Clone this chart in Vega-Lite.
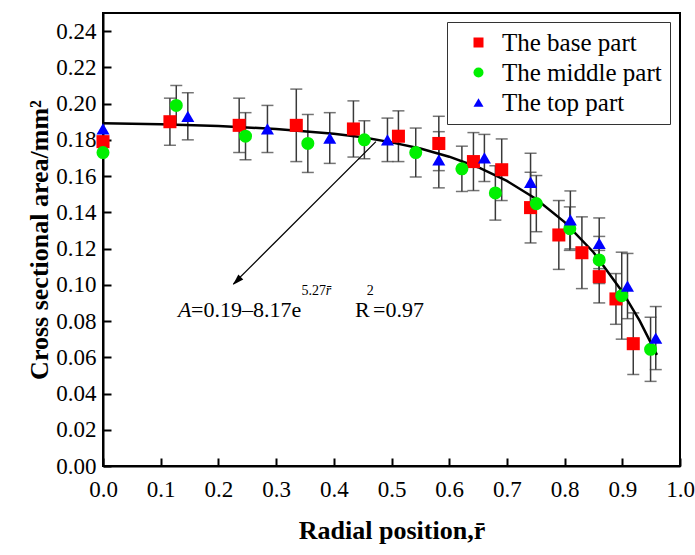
{
  "$schema": "https://vega.github.io/schema/vega-lite/v6.json",
  "width": 577,
  "height": 453,
  "autosize": "none",
  "padding": {"left": 103, "top": 13, "right": 15, "bottom": 89},
  "background": "white",
  "config": {
    "view": {"stroke": "#000000", "strokeWidth": 2},
    "font": "Liberation Serif, Times New Roman, serif",
    "axis": {
      "grid": false,
      "domainColor": "#000000",
      "domainWidth": 2,
      "tickColor": "#000000",
      "tickWidth": 2,
      "tickSize": -8,
      "labelFont": "Liberation Serif, Times New Roman, serif",
      "labelFontSize": 23,
      "labelColor": "#000000",
      "labelFlush": false,
      "labelOverlap": false,
      "titleFont": "Liberation Serif, Times New Roman, serif",
      "titleFontSize": 26,
      "titleFontWeight": "bold",
      "titleColor": "#000000"
    }
  },
  "encoding": {
    "x": {"field": "r", "type": "quantitative", "scale": {"domain": [0, 1], "nice": false, "zero": false},
      "axis": {"values": [0, 0.1, 0.2, 0.3, 0.4, 0.5, 0.6, 0.7, 0.8, 0.9, 1.0], "format": ".1f", "labelPadding": 20, "labelOverlap": false, "title": "Radial position,r̄", "titlePadding": 16}},
    "y": {"field": "A", "type": "quantitative", "scale": {"domain": [0, 0.25], "nice": false, "zero": false},
      "axis": {"values": [0, 0.02, 0.04, 0.06, 0.08, 0.1, 0.12, 0.14, 0.16, 0.18, 0.2, 0.22, 0.24], "format": ".2f", "labelPadding": 15, "labelOverlap": false, "labelSeparation": 0, "title": "Cross sectional area/mm²", "titlePadding": 3}}
  },
  "layer": [
    {
      "data": {"name": "pts"},
      "transform": [{"filter": "datum.e > 0"}],
      "mark": {"type": "errorbar", "ticks": {"size": 12, "thickness": 1.5}, "rule": {"strokeWidth": 1.5}, "color": "#3a3a3a"},
      "encoding": {
        "yError": {"field": "e"}
      }
    },
    {
      "data": {"name": "curve"},
      "mark": {"type": "line", "color": "#000000", "strokeWidth": 2.5}
    },
    {
      "data": {"name": "pts"},
      "mark": {"type": "point", "filled": true, "opacity": 1, "strokeWidth": 0},
      "encoding": {
        "color": {"field": "part", "type": "nominal",
          "scale": {"domain": ["The base part", "The middle part", "The top part"], "range": ["#ff0000", "#00f000", "#0000ff"]},
          "legend": {"title": null, "orient": "none", "legendX": 344, "legendY": 9,
            "padding": 8, "strokeColor": "#333333", "fillColor": "#ffffff",
            "labelFont": "Liberation Serif, Times New Roman, serif", "labelFontSize": 25, "labelColor": "#000000",
            "symbolSize": 100, "symbolOffset": 11, "labelOffset": 11, "rowPadding": 4, "symbolStrokeWidth": 0}},
        "shape": {"field": "part", "type": "nominal",
          "scale": {"domain": ["The base part", "The middle part", "The top part"], "range": ["square", "circle", "triangle-up"]},
          "legend": null},
        "size": {"value": 170}
      }
    },
    {
      "data": {"values": [{"r": 0.473, "A": 0.179, "r2": 0.226, "A2": 0.1005}]},
      "mark": {"type": "rule", "color": "#000000", "strokeWidth": 1.3},
      "encoding": {
        "x2": {"field": "r2"},
        "y2": {"field": "A2"}
      }
    },
    {
      "data": {"values": [{"r": 0.225, "A": 0.0999}]},
      "mark": {"type": "point", "shape": "M0,0L-0.4,1.3L0.4,1.3Z", "filled": true, "color": "#000000", "opacity": 1, "size": 300, "angle": 225}
    },
    {
      "data": {"values": [{"r": 0.130, "A": 0.0822, "t": "A"}]},
      "mark": {"type": "text", "align": "left", "baseline": "alphabetic", "fontSize": 22, "fontStyle": "italic", "font": "Liberation Serif, Times New Roman, serif", "color": "#000000"},
      "encoding": {"text": {"field": "t"}}
    },
    {
      "data": {"values": [{"r": 0.1525, "A": 0.0822, "t": "=0.19–8.17e"}, {"r": 0.4367, "A": 0.0822, "t": "R"}, {"r": 0.468, "A": 0.0822, "t": "=0.97"}]},
      "mark": {"type": "text", "align": "left", "baseline": "alphabetic", "fontSize": 22, "font": "Liberation Serif, Times New Roman, serif", "color": "#000000"},
      "encoding": {"text": {"field": "t"}}
    },
    {
      "data": {"values": [{"r": 0.344, "A": 0.0944, "t": "5.27"}, {"r": 0.457, "A": 0.0944, "t": "2"}]},
      "mark": {"type": "text", "align": "left", "baseline": "alphabetic", "fontSize": 14, "font": "Liberation Serif, Times New Roman, serif", "color": "#000000"},
      "encoding": {"text": {"field": "t"}}
    },
    {
      "data": {"values": [{"r": 0.386, "A": 0.0944, "t": "r̄"}]},
      "mark": {"type": "text", "align": "left", "baseline": "alphabetic", "fontSize": 14, "fontStyle": "italic", "font": "Liberation Serif, Times New Roman, serif", "color": "#000000"},
      "encoding": {"text": {"field": "t"}}
    }
  ],
  "datasets": {
    "curve": [
      {"r": 0.0, "A": 0.1892}, {"r": 0.1, "A": 0.1886}, {"r": 0.2, "A": 0.1877}, {"r": 0.3, "A": 0.1860},
      {"r": 0.4, "A": 0.1833}, {"r": 0.45, "A": 0.1814}, {"r": 0.5, "A": 0.1786}, {"r": 0.55, "A": 0.1752},
      {"r": 0.6, "A": 0.1707}, {"r": 0.65, "A": 0.1649}, {"r": 0.7, "A": 0.1573}, {"r": 0.75, "A": 0.1475},
      {"r": 0.8, "A": 0.1346}, {"r": 0.85, "A": 0.1180}, {"r": 0.9, "A": 0.0962}, {"r": 0.93, "A": 0.0802},
      {"r": 0.96, "A": 0.0613}
    ],
    "pts": [
      {"part": "The base part", "r": 0.0, "A": 0.179, "e": 0},
      {"part": "The base part", "r": 0.116, "A": 0.190, "e": 0.013},
      {"part": "The base part", "r": 0.236, "A": 0.188, "e": 0.015},
      {"part": "The base part", "r": 0.335, "A": 0.188, "e": 0.020},
      {"part": "The base part", "r": 0.434, "A": 0.186, "e": 0.0155},
      {"part": "The base part", "r": 0.512, "A": 0.182, "e": 0.014},
      {"part": "The base part", "r": 0.582, "A": 0.178, "e": 0.015},
      {"part": "The base part", "r": 0.642, "A": 0.168, "e": 0.016},
      {"part": "The base part", "r": 0.691, "A": 0.1635, "e": 0.017},
      {"part": "The base part", "r": 0.741, "A": 0.1426, "e": 0.0195},
      {"part": "The base part", "r": 0.790, "A": 0.1275, "e": 0.019},
      {"part": "The base part", "r": 0.830, "A": 0.1177, "e": 0.0198},
      {"part": "The base part", "r": 0.860, "A": 0.1045, "e": 0.0145},
      {"part": "The base part", "r": 0.889, "A": 0.0922, "e": 0.014},
      {"part": "The base part", "r": 0.919, "A": 0.0675, "e": 0.017},
      {"part": "The middle part", "r": 0.0, "A": 0.173, "e": 0},
      {"part": "The middle part", "r": 0.127, "A": 0.199, "e": 0.011},
      {"part": "The middle part", "r": 0.247, "A": 0.182, "e": 0.013},
      {"part": "The middle part", "r": 0.355, "A": 0.178, "e": 0.016},
      {"part": "The middle part", "r": 0.453, "A": 0.180, "e": 0.0105},
      {"part": "The middle part", "r": 0.542, "A": 0.173, "e": 0.0135},
      {"part": "The middle part", "r": 0.622, "A": 0.164, "e": 0.0125},
      {"part": "The middle part", "r": 0.680, "A": 0.1507, "e": 0.015},
      {"part": "The middle part", "r": 0.751, "A": 0.1448, "e": 0.0155},
      {"part": "The middle part", "r": 0.809, "A": 0.131, "e": 0.012},
      {"part": "The middle part", "r": 0.860, "A": 0.1137, "e": 0.013},
      {"part": "The middle part", "r": 0.899, "A": 0.094, "e": 0.024},
      {"part": "The middle part", "r": 0.949, "A": 0.0644, "e": 0.0177},
      {"part": "The top part", "r": 0.0, "A": 0.186, "e": 0},
      {"part": "The top part", "r": 0.147, "A": 0.193, "e": 0.013},
      {"part": "The top part", "r": 0.285, "A": 0.186, "e": 0.013},
      {"part": "The top part", "r": 0.393, "A": 0.181, "e": 0.014},
      {"part": "The top part", "r": 0.493, "A": 0.180, "e": 0.012},
      {"part": "The top part", "r": 0.582, "A": 0.169, "e": 0.0155},
      {"part": "The top part", "r": 0.661, "A": 0.170, "e": 0.013},
      {"part": "The top part", "r": 0.741, "A": 0.1566, "e": 0.016},
      {"part": "The top part", "r": 0.810, "A": 0.1358, "e": 0.016},
      {"part": "The top part", "r": 0.860, "A": 0.1229, "e": 0.014},
      {"part": "The top part", "r": 0.909, "A": 0.0993, "e": 0.018},
      {"part": "The top part", "r": 0.958, "A": 0.0706, "e": 0.0174}
    ]
  }
}
